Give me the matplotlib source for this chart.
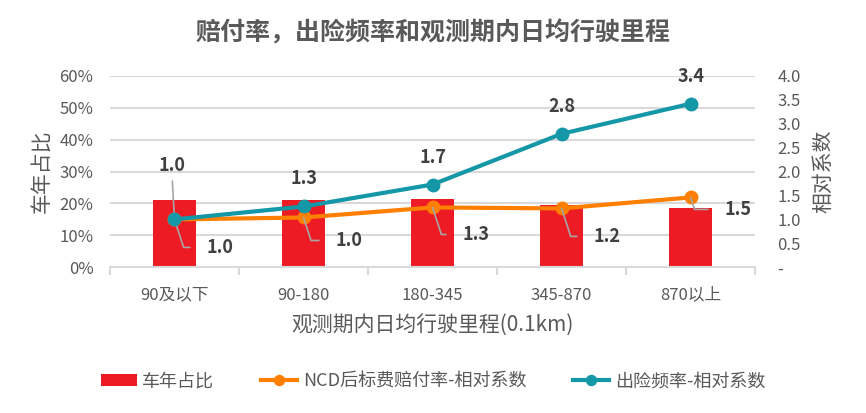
import matplotlib.pyplot as plt
from matplotlib.ticker import FuncFormatter, FixedLocator

plt.rcParams['font.family'] = ['Noto Sans CJK SC', 'DejaVu Sans']
plt.rcParams['axes.unicode_minus'] = False

# 数据
categories = ['90及以下', '90-180', '180-345', '345-870', '870以上']
car_share = [0.21, 0.21, 0.214, 0.195, 0.185]
ncd_loss = [1.0, 1.04, 1.25, 1.23, 1.46]
freq = [1.0, 1.27, 1.73, 2.79, 3.42]
ncd_labels = ['1.0', '1.0', '1.3', '1.2', '1.5']
freq_labels = ['1.0', '1.3', '1.7', '2.8', '3.4']

red = '#ED1C24'
orange = '#FF8000'
teal = '#1497A6'
grid_c = '#D9D9D9'
txt_c = '#595959'
lbl_c = '#404040'

fig = plt.figure(figsize=(8.66, 4.13), dpi=100)
ax = fig.add_axes([0.127, 0.353, 0.745, 0.463])
ax2 = ax.twinx()

x = list(range(len(categories)))
ax.bar(x, car_share, width=0.33, color=red, label='车年占比', zorder=2)
ax.set_ylim(0, 0.6)
ax.set_yticks([i / 10 for i in range(7)])
ax.yaxis.set_major_formatter(FuncFormatter(lambda v, p: f'{v*100:.0f}%'))
ax.grid(axis='y', color=grid_c, lw=1.5, zorder=0)
ax.set_axisbelow(True)
ax.set_xlim(-0.5, 4.5)
ax.set_xticks(x)
ax.set_xticklabels(categories, fontsize=12, color=txt_c)
ax.xaxis.set_minor_locator(FixedLocator([i - 0.5 for i in range(6)]))
ax.tick_params(axis='x', which='major', length=0, pad=14)
ax.tick_params(axis='x', which='minor', length=6, color=grid_c, width=1.5)
ax.tick_params(axis='y', length=0, labelsize=12, labelcolor=txt_c, pad=12)
for s in ['top', 'right', 'left']:
    ax.spines[s].set_visible(False)
ax.spines['bottom'].set_color(grid_c)
ax.spines['bottom'].set_linewidth(1.5)
ax.set_ylabel('车年占比', fontsize=15, color=txt_c, labelpad=4)
ax.set_xlabel('观测期内日均行驶里程(0.1km)', fontsize=15, color=txt_c, labelpad=7)

ax2.plot(x, ncd_loss, color=orange, lw=3, marker='o', ms=9, label='NCD后标费赔付率-相对系数', zorder=3)
ax2.plot(x, freq, color=teal, lw=3, marker='o', ms=9, label='出险频率-相对系数', zorder=4)
ax2.set_ylim(0, 4.0)
ax2.set_yticks([i * 0.5 for i in range(9)])
ax2.yaxis.set_major_formatter(FuncFormatter(lambda v, p: '-' if v == 0 else f'{v:.1f}'))
ax2.tick_params(axis='y', length=0, labelsize=12, labelcolor=txt_c, pad=16)
for s in ax2.spines.values():
    s.set_visible(False)
ax2.set_ylabel('相对系数', fontsize=15, color=txt_c, labelpad=8, rotation=90)

# 数据标签
for i, (v, t) in enumerate(zip(freq, freq_labels)):
    if i == 0:
        ax2.annotate(t, (i, v), xytext=(-3, 44), textcoords='offset pixels',
                     ha='center', va='bottom', fontsize=13, fontweight='bold', color=lbl_c,
                     arrowprops=dict(arrowstyle='-', color='#A6A6A6', lw=1.2, shrinkA=2, shrinkB=0))
    else:
        ax2.annotate(t, (i, v), xytext=(0, 18), textcoords='offset pixels',
                     ha='center', va='bottom', fontsize=13, fontweight='bold', color=lbl_c)

ncd_off = [(32, -28), (32, -23), (30, -27), (32, -28), (34, -12)]
for i, (v, t) in enumerate(zip(ncd_loss, ncd_labels)):
    dx, dy = ncd_off[i]
    ax2.annotate(t, (i, v), xytext=(dx, dy), textcoords='offset pixels',
                 ha='left', va='center', fontsize=13, fontweight='bold', color=lbl_c,
                 arrowprops=dict(arrowstyle='-', color='#A6A6A6', lw=1.2,
                                 connectionstyle='angle,angleA=0,angleB=-72,rad=0',
                                 relpos=(0, 0.5), shrinkA=10, shrinkB=0))

fig.text(0.5, 0.92, '赔付率，出险频率和观测期内日均行驶里程', ha='center', va='center',
         fontsize=18, fontweight='bold', color=txt_c)

h1, l1 = ax.get_legend_handles_labels()
h2, l2 = ax2.get_legend_handles_labels()
fig.legend(h1 + h2, l1 + l2, loc='center', bbox_to_anchor=(0.5, 0.077), ncol=3,
           frameon=False, fontsize=13, labelcolor=txt_c, columnspacing=2.6,
           handlelength=2.0, handletextpad=0.3, markerscale=0.8)

fig.savefig('out.png', dpi=100)
